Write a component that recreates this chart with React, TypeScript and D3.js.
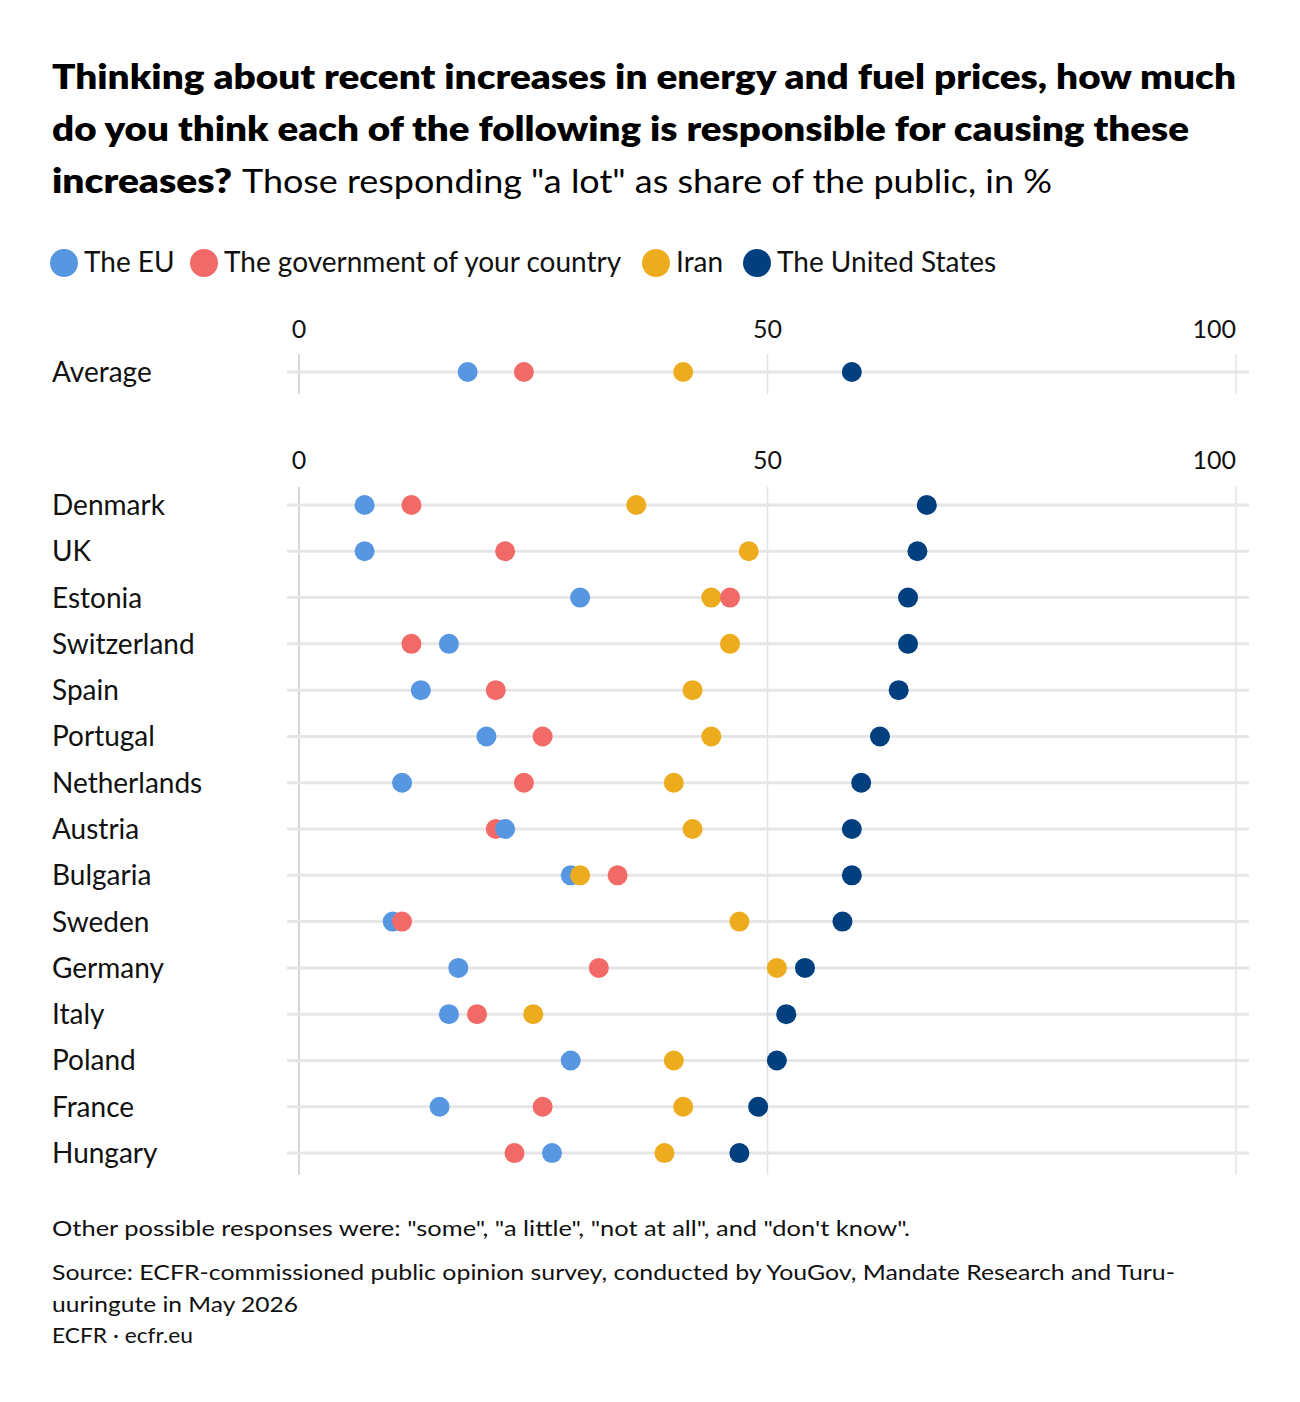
import React from "react";
import * as d3 from "d3";

const seriesNames = ["The EU", "The government of your country", "Iran", "The United States"];
const seriesColors = ["#5797e1", "#f26a67", "#edac1d", "#013f7f"];

const averageLabel = "Average";
const averageValues = [18, 24, 41, 59];

const countries = [
  "Denmark", "UK", "Estonia", "Switzerland", "Spain", "Portugal", "Netherlands",
  "Austria", "Bulgaria", "Sweden", "Germany", "Italy", "Poland", "France", "Hungary",
];
const euValues = [7, 7, 30, 16, 13, 20, 11, 22, 29, 10, 17, 16, 29, 15, 27];
const govValues: (number | null)[] = [12, 22, 46, 12, 21, 26, 24, 21, 34, 11, 32, 19, null, 26, 23];
const iranValues = [36, 48, 44, 46, 42, 44, 40, 42, 30, 47, 51, 25, 40, 41, 39];
const usValues = [67, 66, 65, 65, 64, 62, 60, 59, 59, 58, 54, 52, 51, 49, 47];

const tickValues = [0, 50, 100];

const titleBold1 = "Thinking about recent increases in energy and fuel prices, how much";
const titleBold2 = "do you think each of the following is responsible for causing these";
const titleBold3 = "increases?";
const titleRest = "Those responding \"a lot\" as share of the public, in %";
const note = "Other possible responses were: \"some\", \"a little\", \"not at all\", and \"don't know\".";
const source1 = "Source: ECFR-commissioned public opinion survey, conducted by YouGov, Mandate Research and Turu-";
const source2 = "uuringute in May 2026";
const credit = "ECFR · ecfr.eu";

const FONT = "Lato, 'Open Sans', sans-serif";

type Row = { label: string; values: (number | null)[] };

function Panel({ rows, x, top, rowStep, tickY }: { rows: Row[]; x: d3.ScaleLinear<number, number>; top: number; rowStep: number; tickY: number }) {
  const lastY = top + (rows.length - 1) * rowStep;
  const y0 = top - 18;
  const y1 = lastY + 22;
  return (
    <g>
      {tickValues.map((t, i) => (
        <text
          key={"t" + t}
          x={x(t)}
          y={tickY}
          textAnchor={i === tickValues.length - 1 ? "end" : "middle"}
          fontSize={25}
          fontFamily={FONT}
          fill="#111"
        >
          {t}
        </text>
      ))}
      {tickValues.map((t, i) => (
        <line
          key={"g" + t}
          x1={x(t)}
          x2={x(t)}
          y1={y0}
          y2={y1}
          stroke={i === 0 ? "#c8c8c8" : "#e3e3e3"}
          strokeWidth={1.5}
        />
      ))}
      {rows.map((r, ri) => {
        const cy = top + ri * rowStep;
        const pts = r.values
          .map((v, si) => ({ v, si }))
          .filter((p) => p.v !== null)
          .sort((a, b) => (a.v as number) - (b.v as number));
        return (
          <g key={r.label}>
            <text x={52} y={cy + 10} fontSize={28} fontFamily={FONT} fill="#111">
              {r.label}
            </text>
            <line x1={287} x2={1249} y1={cy} y2={cy} stroke="#e6e6e6" strokeWidth={3} />
            {pts.map((p) => (
              <circle key={p.si} cx={x(p.v as number)} cy={cy} r={10} fill={seriesColors[p.si]} />
            ))}
          </g>
        );
      })}
    </g>
  );
}

export default function App() {
  const x = d3.scaleLinear().domain([0, 100]).range([299, 1236]);

  const avgRows: Row[] = [{ label: averageLabel, values: averageValues }];
  const rows: Row[] = countries.map((c, i) => ({
    label: c,
    values: [euValues[i], govValues[i], iranValues[i], usValues[i]],
  }));

  const legendX = [64, 204, 656, 757];

  return (
    <svg
      width={1300}
      height={1402}
      style={{ position: "absolute", left: 0, top: 0, display: "block", background: "#fff" }}
    >
      <rect width={1300} height={1402} fill="#fff" />
      <g fontFamily={FONT} fill="#000">
        <text x={52} y={89} fontSize={33} fontWeight={800} textLength={1184} lengthAdjust="spacingAndGlyphs">{titleBold1}</text>
        <text x={52} y={141} fontSize={33} fontWeight={800} textLength={1137} lengthAdjust="spacingAndGlyphs">{titleBold2}</text>
        <text x={52} y={193} fontSize={33} fontWeight={800} textLength={180} lengthAdjust="spacingAndGlyphs">{titleBold3}</text>
        <text x={242} y={193} fontSize={33} fontWeight={400} textLength={810} lengthAdjust="spacingAndGlyphs">{titleRest}</text>
      </g>
      <g>
        {seriesNames.map((s, i) => (
          <g key={s}>
            <circle cx={legendX[i]} cy={263} r={14} fill={seriesColors[i]} />
            <text x={legendX[i] + 20} y={272} fontSize={28} fontFamily={FONT} fill="#111">
              {s}
            </text>
          </g>
        ))}
      </g>
      <Panel rows={avgRows} x={x} top={372} rowStep={46.3} tickY={338} />
      <Panel rows={rows} x={x} top={505} rowStep={46.29} tickY={469} />
      <g fontFamily={FONT} fill="#111" fontSize={22}>
        <text x={52} y={1236} textLength={858} lengthAdjust="spacingAndGlyphs">{note}</text>
        <text x={52} y={1280} textLength={1123} lengthAdjust="spacingAndGlyphs">{source1}</text>
        <text x={52} y={1312} textLength={246} lengthAdjust="spacingAndGlyphs">{source2}</text>
        <text x={52} y={1343} textLength={141} lengthAdjust="spacingAndGlyphs">{credit}</text>
      </g>
    </svg>
  );
}
